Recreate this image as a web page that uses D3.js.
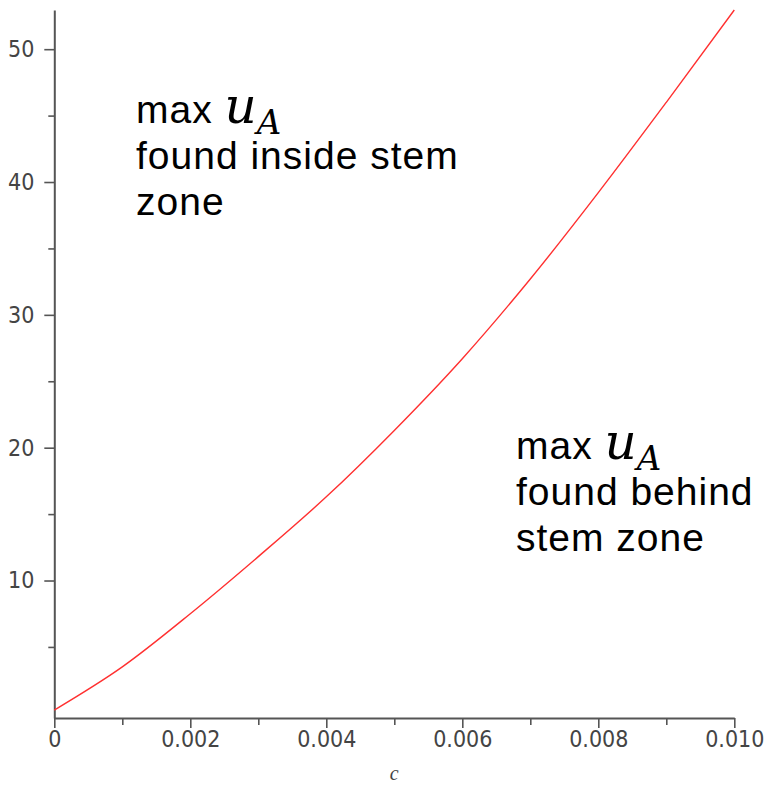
<!DOCTYPE html>
<html>
<head>
<meta charset="utf-8">
<script src="https://cdn.jsdelivr.net/npm/d3@7"></script>
<style>
  body { margin: 0; background: #fff; }
  svg { display: block; }
</style>
</head>
<body>
<script>
// values
var cValues = [0, 0.001, 0.002, 0.003, 0.004, 0.005, 0.006, 0.007, 0.008, 0.009, 0.010];
var uValues = [0.25, 3.5, 7.5, 11.8, 16.3, 21.3, 26.7, 32.7, 39.2, 46.0, 52.95];

var xTicks = [0, 0.002, 0.004, 0.006, 0.008, 0.010];
var xTickLabels = ["0", "0.002", "0.004", "0.006", "0.008", "0.010"];
var xMinorTicks = [0.001, 0.003, 0.005, 0.007, 0.009];
var yTicks = [10, 20, 30, 40, 50];
var yTickLabels = ["10", "20", "30", "40", "50"];
var yMinorTicks = [5, 15, 25, 35, 45];

var insideLines = ["found inside stem", "zone"];
var behindLines = ["found behind", "stem zone"];

var width = 764, height = 785;
var svg = d3.select("body").append("svg")
    .attr("width", width)
    .attr("height", height);

var x = d3.scaleLinear().domain([0, 0.010]).range([54.3, 734.3]);
var y = d3.scaleLinear().domain([-0.35, 52.95]).range([718, 10]);

var tickFont = "'DejaVu Sans Condensed', 'DejaVu Sans', sans-serif";

// x axis
svg.append("g")
    .attr("transform", "translate(0," + y.range()[0] + ")")
    .call(d3.axisBottom(x)
        .tickValues(xTicks)
        .tickFormat(function (d, i) { return xTickLabels[i]; })
        .tickSize(10)
        .tickSizeOuter(0)
        .tickPadding(3));

svg.append("g")
    .attr("transform", "translate(0," + y.range()[0] + ")")
    .call(d3.axisBottom(x).tickValues(xMinorTicks).tickFormat("").tickSize(7).tickSizeOuter(0))
    .select(".domain").remove();

// y axis
svg.append("g")
    .attr("transform", "translate(" + x.range()[0] + ",0)")
    .call(d3.axisLeft(y)
        .tickValues(yTicks)
        .tickFormat(function (d, i) { return yTickLabels[i]; })
        .tickSize(10)
        .tickSizeOuter(0)
        .tickPadding(10));

svg.append("g")
    .attr("transform", "translate(" + x.range()[0] + ",0)")
    .call(d3.axisLeft(y).tickValues(yMinorTicks).tickFormat("").tickSize(6).tickSizeOuter(0))
    .select(".domain").remove();

svg.selectAll(".domain").attr("stroke", "#555").attr("stroke-width", 2);
svg.selectAll(".tick line").attr("stroke", "#555").attr("stroke-width", 1.6);
svg.selectAll(".tick text")
    .attr("fill", "#444")
    .style("font-family", tickFont)
    .style("font-stretch", "condensed")
    .style("font-size", "23px");

// axis title
svg.append("text")
    .attr("x", (x.range()[0] + x.range()[1]) / 2)
    .attr("y", 780)
    .attr("text-anchor", "middle")
    .attr("fill", "#444")
    .style("font-family", "'Liberation Serif', serif")
    .style("font-style", "italic")
    .style("font-size", "20px")
    .text("c");

// curve
var line = d3.line()
    .x(function (d, i) { return x(cValues[i]); })
    .y(function (d) { return y(d); })
    .curve(d3.curveMonotoneX);

svg.append("path")
    .datum(uValues)
    .attr("d", line)
    .attr("fill", "none")
    .attr("stroke", "#ff3030")
    .attr("stroke-width", 1.4);

// annotations
function annotate(left, top, lines) {
    var g = svg.append("g")
        .style("font-family", "'Liberation Sans', Arial, sans-serif")
        .style("font-size", "39px")
        .style("letter-spacing", "1px")
        .attr("fill", "#000");

    var first = g.append("text").attr("x", left).attr("y", top);
    first.append("tspan").text("max ");
    first.append("tspan")
        .style("font-family", "'DejaVu Serif', serif")
        .style("font-style", "italic")
        .style("font-size", "50px")
        .style("letter-spacing", "0px")
        .text("u");
    first.append("tspan")
        .attr("dy", 11)
        .style("font-family", "'DejaVu Serif', serif")
        .style("font-style", "italic")
        .style("font-size", "34px")
        .style("letter-spacing", "0px")
        .text("A");

    g.selectAll("text.line")
        .data(lines)
        .enter()
        .append("text")
        .attr("class", "line")
        .attr("x", left)
        .attr("y", function (d, i) { return top + 46 * (i + 1); })
        .text(function (d) { return d; });
}

annotate(136, 123, insideLines);
annotate(516, 459, behindLines);
</script>
</body>
</html>
